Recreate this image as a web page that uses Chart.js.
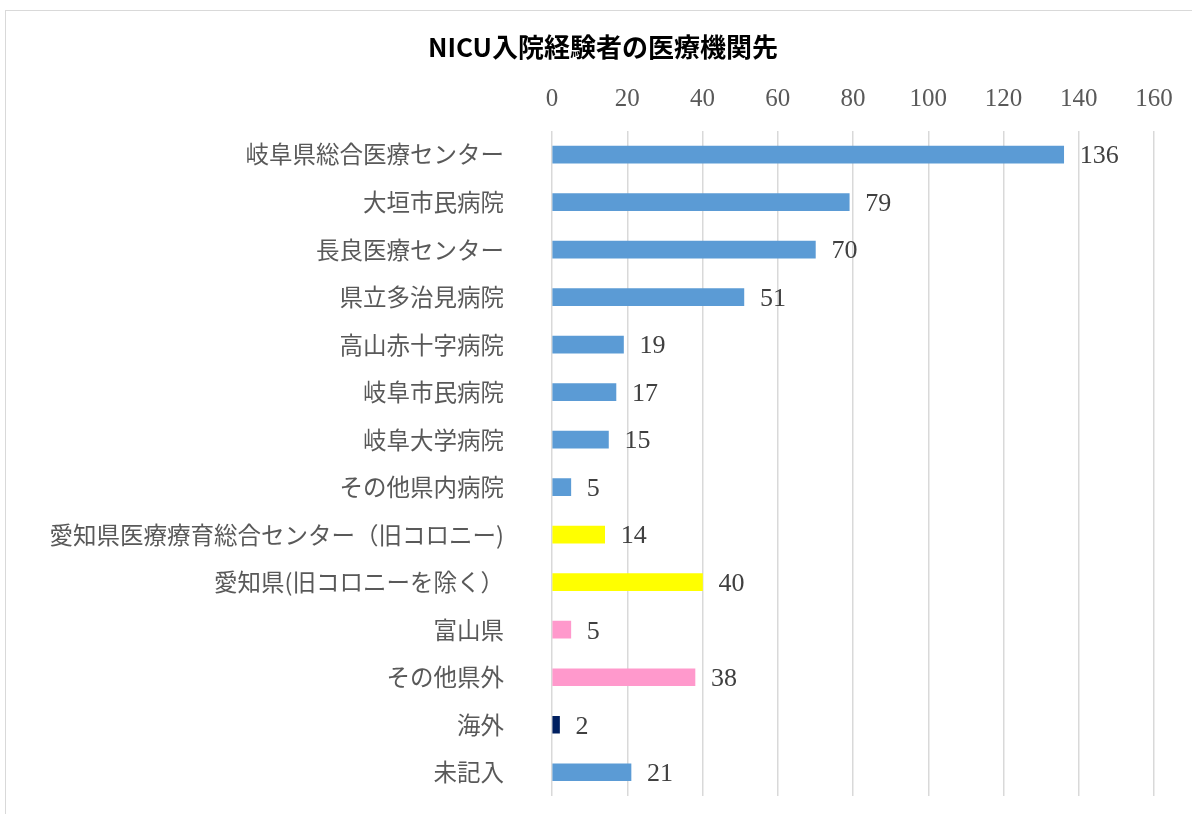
<!DOCTYPE html>
<html>
<head>
<meta charset="utf-8">
<script src="https://cdn.jsdelivr.net/npm/chart.js@4/dist/chart.umd.min.js"></script>
<style>
  html, body { margin: 0; padding: 0; background: #ffffff; }
  #wrap { position: relative; width: 1192px; height: 814px; overflow: hidden; }
  #frame { position: absolute; left: 5px; top: 10px; width: 1400px; height: 1000px; border: 1.5px solid #d9d9d9; }
  canvas { position: absolute; left: 0; top: 0; }
</style>
</head>
<body>
<div id="wrap">
  <div id="frame"></div>
  <canvas id="c" width="1192" height="814"></canvas>
</div>
<script>
const titleText = 'NICU入院経験者の医療機関先';
const categories = [
  '岐阜県総合医療センター',
  '大垣市民病院',
  '長良医療センター',
  '県立多治見病院',
  '高山赤十字病院',
  '岐阜市民病院',
  '岐阜大学病院',
  'その他県内病院',
  '愛知県医療療育総合センター（旧コロニー)',
  '愛知県(旧コロニーを除く）',
  '富山県',
  'その他県外',
  '海外',
  '未記入'
];
const values = [136, 79, 70, 51, 19, 17, 15, 5, 14, 40, 5, 38, 2, 21];
const axisMin = 0;
const axisMax = 160;
const axisStep = 20;

const BLUE = '#5B9BD5', YELLOW = '#FFFF00', PINK = '#FF99CC', NAVY = '#002060';
const barColors = [BLUE, BLUE, BLUE, BLUE, BLUE, BLUE, BLUE, BLUE, YELLOW, YELLOW, PINK, PINK, NAVY, BLUE];

const valueLabels = {
  id: 'valueLabels',
  afterDatasetsDraw(chart) {
    const ctx = chart.ctx;
    const meta = chart.getDatasetMeta(0);
    ctx.save();
    ctx.font = '26px "Liberation Serif", serif';
    ctx.fillStyle = '#404040';
    ctx.textAlign = 'left';
    ctx.textBaseline = 'middle';
    meta.data.forEach((bar, i) => {
      ctx.fillText(String(values[i]), bar.x + 16, bar.y + 2);
    });
    ctx.restore();
  }
};

new Chart(document.getElementById('c'), {
  type: 'bar',
  data: {
    labels: categories,
    datasets: [{
      data: values,
      backgroundColor: barColors,
      borderWidth: 0,
      barThickness: 17
    }]
  },
  options: {
    indexAxis: 'y',
    responsive: false,
    animation: false,
    layout: { padding: { left: 14, right: 0, top: 0, bottom: 18 } },
    plugins: {
      legend: { display: false },
      tooltip: { enabled: false },
      title: {
        display: true,
        text: titleText,
        color: '#000000',
        font: { family: '"Noto Sans CJK JP", sans-serif', size: 26, weight: 'bold' },
        padding: { top: 32, bottom: 0 }
      }
    },
    scales: {
      x: {
        position: 'top',
        min: axisMin,
        max: axisMax,
        ticks: {
          stepSize: axisStep,
          color: '#595959',
          font: { family: '"Liberation Serif", serif', size: 25 },
          padding: 16
        },
        grid: { color: '#d9d9d9', lineWidth: 1.5, drawTicks: false },
        border: { display: false },
        afterFit(scale) { scale.height = 67.6; }
      },
      y: {
        ticks: {
          color: '#595959',
          font: { family: '"Noto Sans CJK JP", sans-serif', size: 23.5 },
          padding: 48
        },
        grid: { display: false, drawTicks: false },
        border: { display: false },
        afterFit(scale) {
          scale.width = 538;
          scale.paddingTop = 0;
          scale.paddingBottom = 0;
        }
      },
      yRightSpace: {
        axis: 'y',
        type: 'category',
        position: 'right',
        ticks: { display: false },
        grid: { display: false, drawTicks: false },
        border: { display: false },
        afterFit(scale) {
          scale.width = 38;
          scale.paddingTop = 0;
          scale.paddingBottom = 0;
        }
      }
    }
  },
  plugins: [valueLabels]
});
</script>
</body>
</html>
